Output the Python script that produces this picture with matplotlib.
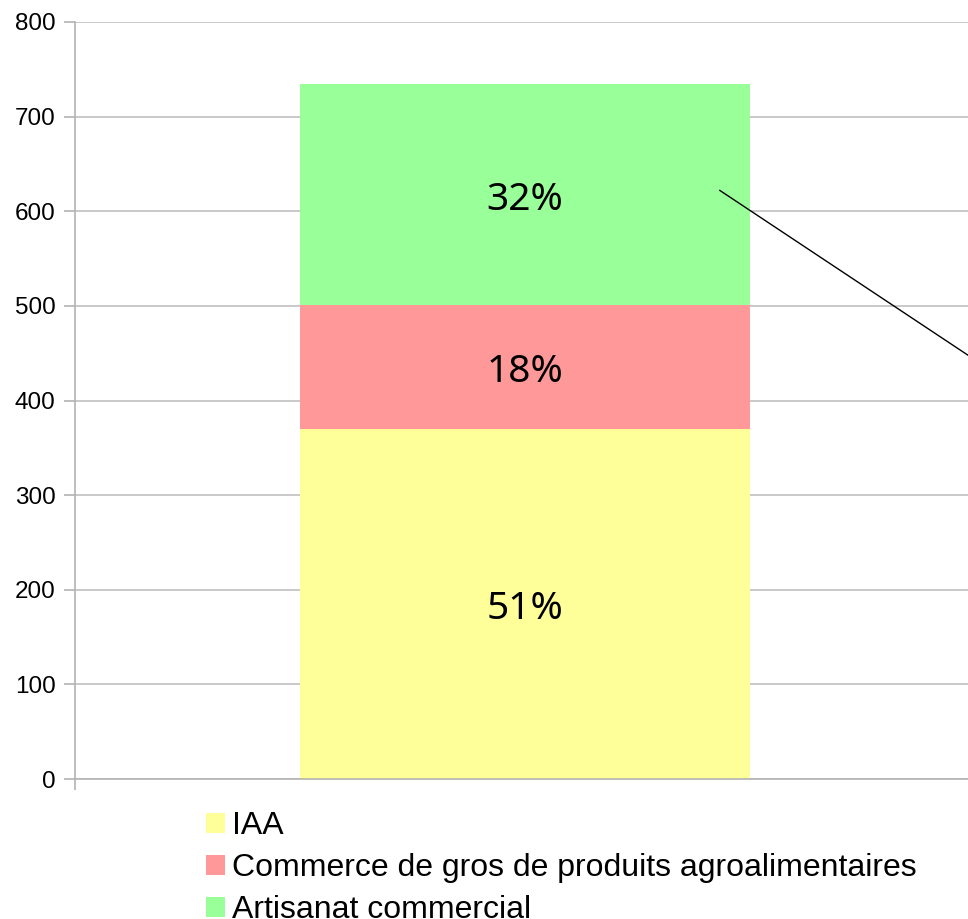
import matplotlib.pyplot as plt
import matplotlib.transforms as mtransforms
from matplotlib.patches import Patch

# data
categories = ['IAA', 'Commerce de gros de produits agroalimentaires', 'Artisanat commercial']
values = [370, 131, 233]
pct_labels = ['51%', '18%', '32%']
colors = ['#ffff99', '#ff9999', '#99ff99']
y_ticks = [0, 100, 200, 300, 400, 500, 600, 700, 800]

fig = plt.figure(figsize=(9.68, 9.19), dpi=100)
ax = fig.add_axes([75 / 968, 1 - 779 / 919, 900 / 968, 757 / 919])

# nudge the labels down a few pixels so glyphs sit in the middle
lab_trans = mtransforms.offset_copy(ax.transData, fig=fig, x=0, y=-5, units='dots')

bottom = 0
for cat, val, col, lab in zip(categories, values, colors, pct_labels):
    ax.bar(0, val, width=1.0, bottom=bottom, color=col, label=cat, zorder=2)
    ax.text(0, bottom + val / 2, lab, ha='center', va='center', transform=lab_trans,
            fontsize=28, family='Noto Sans', zorder=3)
    bottom += val

# leader line of the top label (goes off the right edge)
ax.plot([0.433, 1.06], [622, 424], color='black', lw=1, zorder=4, clip_on=False)

ax.set_xlim(-1, 1)
ax.set_ylim(0, 800)
ax.set_yticks(y_ticks)
ax.set_xticks([-1])
ax.set_xticklabels([''])
ax.grid(axis='y', color='#c0c0c0', lw=1.2, zorder=0)
ax.tick_params(axis='y', length=8, width=1.2, color='#b3b3b3', pad=6, labelsize=17.5)
ax.tick_params(axis='x', length=8, width=1.2, color='#b3b3b3')
for lbl in ax.get_yticklabels():
    lbl.set_family('Liberation Sans')
for s in ['top', 'right']:
    ax.spines[s].set_visible(False)
for s in ['left', 'bottom']:
    ax.spines[s].set_color('#b3b3b3')
    ax.spines[s].set_linewidth(1.2)

handles = [Patch(facecolor=c, edgecolor='none') for c in colors]
fig.legend(handles, categories, loc='upper left', bbox_to_anchor=(206 / 968, 1 - 811 / 919),
           frameon=False, prop={'family': 'Liberation Sans', 'size': 23},
           handlelength=0.6, handleheight=0.6, handletextpad=0.22,
           labelspacing=0.38, borderpad=0, borderaxespad=0)

plt.savefig('out.png', dpi=100)
